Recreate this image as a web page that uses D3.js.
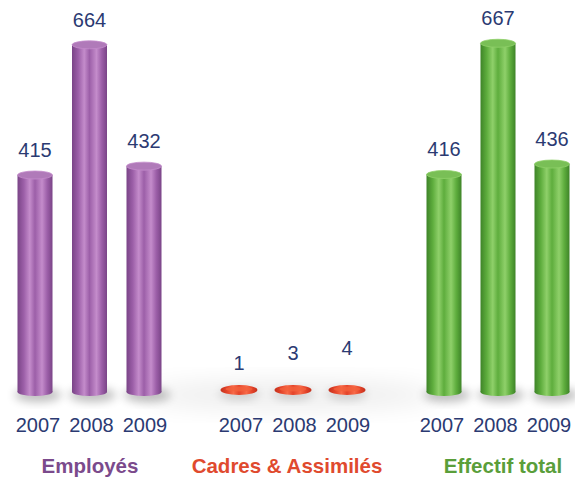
<!DOCTYPE html>
<html><head><meta charset="utf-8">
<script src="https://cdn.jsdelivr.net/npm/d3@7"></script>
<style>html,body{margin:0;padding:0;background:#fff;}svg{display:block;}</style>
</head><body>
<svg id="c" width="575" height="477"></svg>
<script>
const years = ["2007","2008","2009"];
const employes = [415, 664, 432];
const cadres = [1, 3, 4];
const effectif = [416, 667, 436];
const groupNames = ["Employés", "Cadres & Assimilés", "Effectif total"];

const svg = d3.select("#c");
const defs = svg.append("defs");
const baseY = 392;
const y = d3.scaleLinear().domain([0, 700]).range([baseY, baseY - 366]);
const yRedLabel = d3.scaleLinear().domain([0, 4]).range([393, 373]);

const themes = {
  purple: {dark:"#7a4487", mid:"#9c5fa8", light:"#c48ccb", cap:"#b07ab9", text:"#7b4a8c"},
  green: {dark:"#3e8428", mid:"#5ead3d", light:"#8fd06a", cap:"#79bf56", text:"#5a9e3a"},
  red: {dark:"#c4301c", mid:"#e4442a", light:"#f86a48", cap:"#ee5a3a", text:"#e04a2e"}
};
Object.entries(themes).forEach(([k,t])=>{
  const g = defs.append("linearGradient").attr("id","g-"+k).attr("x1","0").attr("x2","1").attr("y1","0").attr("y2","0");
  [[0,t.dark],[0.18,t.mid],[0.35,t.light],[0.5,t.mid],[0.7,t.light],[0.85,t.mid],[1,t.dark]].forEach(([o,c])=>g.append("stop").attr("offset",o).attr("stop-color",c));
});
defs.append("filter").attr("id","blur").attr("x","-50%").attr("y","-50%").attr("width","200%").attr("height","200%")
  .append("feGaussianBlur").attr("stdDeviation",5);
defs.append("filter").attr("id","blur2").attr("x","-50%").attr("y","-50%").attr("width","200%").attr("height","200%")
  .append("feGaussianBlur").attr("stdDeviation",12);

// big soft floor shadow
svg.append("ellipse").attr("cx",290).attr("cy",395).attr("rx",150).attr("ry",14)
  .attr("fill","#000").attr("opacity",0.07).attr("filter","url(#blur2)");

const groups = [
  {values: employes, theme: "purple", range:[35,144], yrRange:[38,145], name: groupNames[0], nameX: 90},
  {values: cadres, theme: "red", range:[239,347], yrRange:[241,348], name: groupNames[1], nameX: 287},
  {values: effectif, theme: "green", range:[444,552], yrRange:[442,549], name: groupNames[2], nameX: 503}
];
const bw = 35, ry = 4;
const navy = "#2b3a72";
const font = "Liberation Sans, Arial, sans-serif";

groups.forEach(gr=>{
  const x = d3.scalePoint().domain(years).range(gr.range);
  const xl = d3.scalePoint().domain(years).range(gr.yrRange);
  const t = themes[gr.theme];
  const g = svg.append("g");
  const data = years.map((yr,i)=>({yr, v: gr.values[i]}));
  if (gr.theme === "red") {
    g.selectAll("ellipse.sh").data(data).join("ellipse")
      .attr("cx",d=>x(d.yr)).attr("cy",baseY+2).attr("rx",bw/2+2).attr("ry",6)
      .attr("fill","#000").attr("opacity",0.15).attr("filter","url(#blur)");
    g.selectAll("ellipse.b").data(data).join("ellipse")
      .attr("cx",d=>x(d.yr)).attr("cy",baseY-2).attr("rx",bw/2+1).attr("ry",5)
      .attr("fill","url(#g-red)");
    g.selectAll("ellipse.t").data(data).join("ellipse")
      .attr("cx",d=>x(d.yr)).attr("cy",baseY-3).attr("rx",bw/2-4).attr("ry",2.5)
      .attr("fill","#f2603c").attr("opacity",0.8);
    g.selectAll("text.v").data(data).join("text")
      .attr("x",d=>x(d.yr)).attr("y",d=>yRedLabel(d.v)-18)
      .attr("text-anchor","middle").attr("font-family",font)
      .attr("font-size",20).attr("fill",navy).text(d=>d.v);
  } else {
    g.selectAll("ellipse.sh").data(data).join("ellipse")
      .attr("cx",d=>x(d.yr)+3).attr("cy",baseY+3).attr("rx",bw/2+6).attr("ry",7)
      .attr("fill","#000").attr("opacity",0.25).attr("filter","url(#blur)");
    g.selectAll("rect.b").data(data).join("rect")
      .attr("x",d=>x(d.yr)-bw/2).attr("y",d=>y(d.v)).attr("width",bw).attr("height",d=>baseY-y(d.v))
      .attr("fill","url(#g-"+gr.theme+")");
    g.selectAll("ellipse.bot").data(data).join("ellipse")
      .attr("cx",d=>x(d.yr)).attr("cy",baseY).attr("rx",bw/2).attr("ry",ry)
      .attr("fill","url(#g-"+gr.theme+")");
    g.selectAll("ellipse.top").data(data).join("ellipse")
      .attr("cx",d=>x(d.yr)).attr("cy",d=>y(d.v)).attr("rx",bw/2).attr("ry",ry)
      .attr("fill",t.cap).attr("stroke",t.light).attr("stroke-width",0.8);
    g.selectAll("text.v").data(data).join("text")
      .attr("x",d=>x(d.yr)).attr("y",d=>y(d.v)-18)
      .attr("text-anchor","middle").attr("font-family",font)
      .attr("font-size",20).attr("fill",navy).text(d=>d.v);
  }
  g.selectAll("text.yr").data(data).join("text")
    .attr("x",d=>xl(d.yr)).attr("y",432)
    .attr("text-anchor","middle").attr("font-family",font)
    .attr("font-size",20).attr("fill",navy).text(d=>d.yr);
  g.append("text").attr("x",gr.nameX).attr("y",473)
    .attr("text-anchor","middle").attr("font-family",font)
    .attr("font-weight","bold").attr("font-size",20.5).attr("fill",t.text).text(gr.name);
});
</script>
</body></html>
